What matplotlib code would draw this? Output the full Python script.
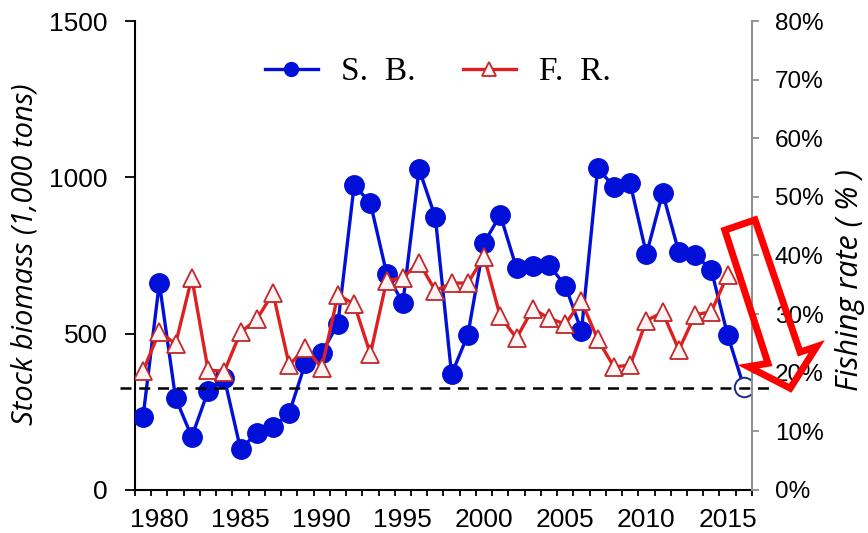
import matplotlib
matplotlib.use("Agg")
import matplotlib.pyplot as plt
from matplotlib.patches import Polygon
from matplotlib.ticker import FuncFormatter

# data
years = list(range(1979, 2017))
sb = [235, 662, 294, 170, 316, 358, 131, 182, 200, 246,
      407, 438, 532, 975, 918, 692, 598, 1026, 872, 370,
      496, 790, 880, 709, 715, 719, 654, 509, 1030, 969,
      981, 754, 950, 760, 753, 703, 496, 330]  # stock biomass (1,000 t), 2016 = estimate
fr_years = list(range(1979, 2016))
fr = [20.3, 27.0, 24.9, 36.2, 20.5, 20.2, 26.9, 29.1, 33.6, 21.3,
      24.3, 20.8, 33.3, 31.7, 23.2, 35.7, 36.2, 38.8, 34.0, 35.3,
      35.3, 39.8, 29.6, 25.9, 30.9, 29.3, 28.3, 32.2, 25.7, 21.0,
      21.3, 28.9, 30.3, 23.9, 29.9, 30.4, 36.7]  # fishing rate (%)
blimit = 326
label_years = list(range(1980, 2016, 5))

blue = "#0010d8"
red = "#e02020"
tick_font = "Liberation Sans"
label_font = "Open Sans"

fig = plt.figure(figsize=(8.68, 5.33), dpi=100)
ax = fig.add_axes([0.1555, 0.0807, 0.7108, 0.8799])
ax2 = ax.twinx()

# S.B. line (last year drawn as an open circle)
ax.plot(years[:-1], sb[:-1], color=blue, lw=2.4, marker="o", ms=14,
        mfc=blue, mec=blue, label="S.  B.", zorder=3)
ax.plot(years[-2:], sb[-2:], color=blue, lw=2.4, zorder=2)
ax.plot(years[-1:], sb[-1:], ls="none", marker="o", ms=14, mfc="white",
        mec="#1a2a8a", mew=1.4, zorder=4)

# Blimit line, runs a bit past both axes
ax.plot([1977.6, 2018.0], [blimit, blimit], color="black", lw=1.8,
        ls=(0, (4.4, 3.1)), clip_on=False, zorder=5)

# F.R. line on right axis
ax2.plot(fr_years, fr, color=red, lw=2.4, marker="^", ms=13,
         mfc="#fff4f4", mec="#c0282a", mew=1.3, label="F.  R.")

ax.set_xlim(1978.5, 2016.5)
ax.set_ylim(0, 1500)
ax2.set_ylim(0, 80)

ax.set_xticks(label_years)
ax.set_xticks([y - 0.5 for y in range(1979, 2018)], minor=True)
ax.tick_params(axis="x", which="major", length=0, pad=13)
ax.tick_params(axis="x", which="minor", length=4.5, width=1.3, direction="out")
ax.set_yticks([0, 500, 1000, 1500])
ax.tick_params(axis="y", length=7, width=1.3, direction="out", pad=12.5)
ax2.set_yticks(range(0, 81, 10))
ax2.yaxis.set_major_formatter(FuncFormatter(lambda v, p: f"{int(v)}%"))
ax2.tick_params(axis="y", length=5, width=1.3, color="#909090", direction="out", pad=11.5)

for lab in ax.get_xticklabels() + ax.get_yticklabels():
    lab.set_fontfamily(tick_font)
    lab.set_fontsize(19)
for lab in ax2.get_yticklabels():
    lab.set_fontfamily(tick_font)
    lab.set_fontsize(17.5)

ax.spines["top"].set_visible(False)
ax2.spines["top"].set_visible(False)
ax.spines["left"].set_linewidth(1.5)
ax.spines["bottom"].set_linewidth(1.5)
ax.spines["right"].set_visible(False)
ax2.spines["left"].set_visible(False)
ax2.spines["bottom"].set_visible(False)
ax2.spines["right"].set_color("#909090")
ax2.spines["right"].set_linewidth(1.5)

# axis titles placed by hand
fig.text(25 / 868, 1 - 254 / 533, "Stock biomass (1,000 tons)", rotation=90,
         ha="center", va="center", fontfamily=label_font, fontstyle="italic",
         fontsize=21)
fig.text(850 / 868, 1 - 280 / 533, "Fishing rate ( % )", rotation=90,
         ha="center", va="center", fontfamily=label_font, fontstyle="italic",
         fontsize=22)

# legend
h1, l1 = ax.get_legend_handles_labels()
h2, l2 = ax2.get_legend_handles_labels()
leg = ax2.legend(h1[:1] + h2, l1[:1] + l2, loc="center", ncol=2,
                 bbox_to_anchor=(0.491, 0.891), frameon=False,
                 handlelength=1.6, columnspacing=1.4, handletextpad=0.7,
                 prop={"family": "Liberation Serif", "size": 24})
for h in leg.legend_handles:
    h.set_markersize(10)

# big red outline arrow pointing down
arrow_pts = [(0.956, 0.554), (1.005, 0.576), (1.078, 0.294), (1.105, 0.306),
             (1.062, 0.217), (0.994, 0.263), (1.026, 0.270)]
ax2.add_patch(Polygon(arrow_pts, closed=True, fill=False, edgecolor="#ff0000",
                      lw=5, joinstyle="miter", transform=ax2.transAxes,
                      clip_on=False, zorder=6))

fig.savefig("out.png", dpi=100)
